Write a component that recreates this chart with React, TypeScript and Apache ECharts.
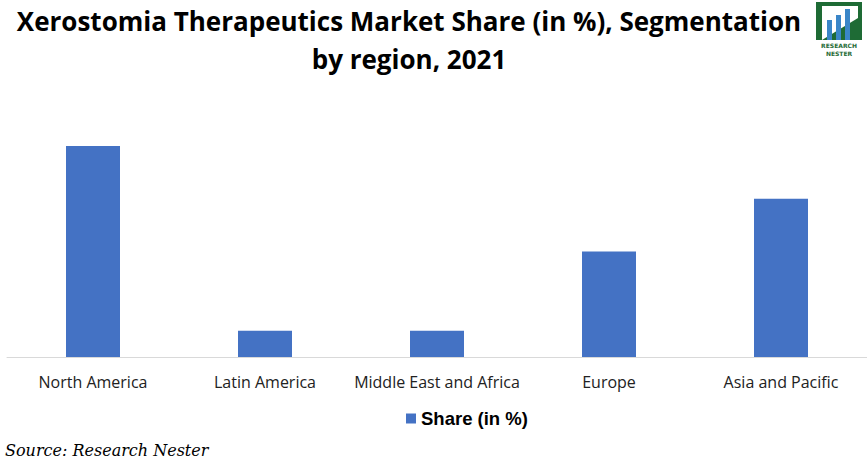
import React, { useEffect, useRef } from "react";
import * as echarts from "echarts";

const categories = ["North America", "Latin America", "Middle East and Africa", "Europe", "Asia and Pacific"];
const shareValues = [40, 5, 5, 20, 30];
const seriesName = "Share (in %)";

export default function App() {
  const ref = useRef<HTMLDivElement>(null);
  useEffect(() => {
    const chart = echarts.init(ref.current!, null, { renderer: "svg" });
    chart.setOption({
      animation: false,
      backgroundColor: "#ffffff",
      title: {
        text: "Xerostomia Therapeutics Market Share (in %), Segmentation\nby region, 2021",
        left: 404,
        textAlign: "center",
        top: -3,
        textStyle: {
          fontFamily: "Open Sans",
          fontWeight: "bold",
          fontSize: 26,
          lineHeight: 38,
          color: "#000",
        },
      },
      legend: {
        data: [seriesName],
        bottom: 29,
        left: 401,
        itemWidth: 10,
        itemHeight: 10,
        icon: "rect",
        itemGap: 6,
        textStyle: { fontFamily: "Liberation Sans", fontWeight: "bold", fontSize: 18.5, color: "#000" },
      },
      grid: { left: 7, right: 0, top: 146, bottom: 105, containLabel: false },
      xAxis: {
        type: "category",
        data: categories,
        axisLine: { lineStyle: { color: "#d9d9d9", width: 1 } },
        axisTick: { show: false },
        axisLabel: { fontFamily: "Open Sans", fontSize: 16, color: "#222", margin: 17, interval: 0 },
      },
      yAxis: {
        type: "value",
        min: 0,
        max: 40,
        show: false,
        splitLine: { show: false },
      },
      series: [
        {
          name: seriesName,
          type: "bar",
          data: shareValues,
          barWidth: 54,
          itemStyle: { color: "#4472c4" },
        },
      ],
      graphic: [
        {
          type: "text",
          left: 5,
          top: 442,
          style: {
            text: "Source: Research Nester",
            font: "italic 16px 'DejaVu Serif'",
            fill: "#000",
          },
        },
        {
          type: "group",
          left: 816,
          top: 2,
          children: [
            { type: "rect", shape: { x: 0, y: 0, width: 46, height: 38 }, style: { fill: "#1e6b35" } },
            { type: "rect", shape: { x: 6, y: 4, width: 36, height: 34 }, style: { fill: "#ffffff" } },
            { type: "polygon", shape: { points: [[6, 38], [42, 16], [42, 38]] }, style: { fill: "#1e6b35" } },
            { type: "rect", shape: { x: 11, y: 18, width: 5, height: 20 }, style: { fill: "#3a86c8" } },
            { type: "rect", shape: { x: 20, y: 13, width: 5, height: 25 }, style: { fill: "#3a86c8" } },
            { type: "rect", shape: { x: 29, y: 7, width: 5, height: 31 }, style: { fill: "#3a86c8" } },
            { type: "text", x: 23, y: 40, style: { text: "RESEARCH", font: "bold 6px 'DejaVu Sans'", fill: "#1e6b35", align: "center" } },
            { type: "text", x: 23, y: 48, style: { text: "NESTER", font: "bold 6px 'DejaVu Sans'", fill: "#1e6b35", align: "center" } },
          ],
        },
      ],
    });
    return () => chart.dispose();
  }, []);
  return <div ref={ref} style={{ position: "absolute", left: 0, top: 0, width: 867, height: 462 }} />;
}
